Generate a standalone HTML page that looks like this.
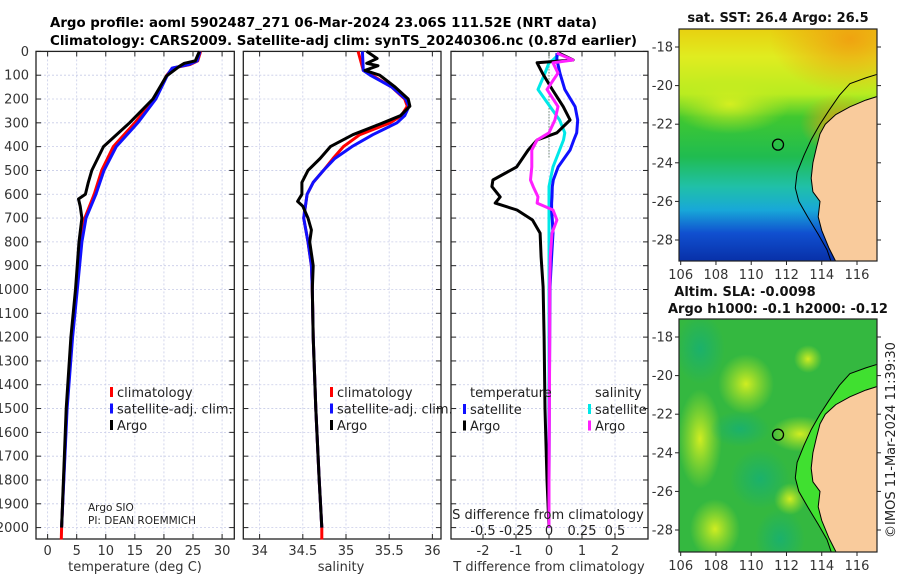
<!DOCTYPE html>
<html><head><meta charset="utf-8"><style>
html,body{margin:0;padding:0;background:#fff;}
svg{display:block;font-family:"DejaVu Sans","Liberation Sans",sans-serif;}
</style></head><body>
<svg id="fig" width="900" height="580" viewBox="0 0 900 580" xmlns="http://www.w3.org/2000/svg">
<defs>
<linearGradient id="sstGrad" x1="0" y1="0" x2="0" y2="1">
<stop offset="0" stop-color="#e8d010"/><stop offset="0.12" stop-color="#e0ec20"/>
<stop offset="0.28" stop-color="#b8ec20"/><stop offset="0.38" stop-color="#40c830"/>
<stop offset="0.55" stop-color="#20bc50"/><stop offset="0.68" stop-color="#20c0a8"/>
<stop offset="0.78" stop-color="#18a8d8"/><stop offset="0.88" stop-color="#1050d0"/>
<stop offset="1" stop-color="#0830a8"/></linearGradient>
<radialGradient id="orangeBlob"><stop offset="0" stop-color="#f0a010" stop-opacity="0.95"/><stop offset="1" stop-color="#f0a010" stop-opacity="0"/></radialGradient>
<radialGradient id="yelBlob"><stop offset="0" stop-color="#d8f020" stop-opacity="0.95"/><stop offset="1" stop-color="#c0e820" stop-opacity="0"/></radialGradient>
<radialGradient id="tealBlob"><stop offset="0" stop-color="#18b070" stop-opacity="0.9"/><stop offset="1" stop-color="#18b070" stop-opacity="0"/></radialGradient>
<clipPath id="clipTop"><rect x="679" y="29" width="198" height="232"/></clipPath>
<clipPath id="clipBot"><rect x="679" y="319" width="198" height="233"/></clipPath>
</defs>
<g id="titles">
<text x="50" y="27" font-size="13.5" font-weight="bold" textLength="547" lengthAdjust="spacingAndGlyphs">Argo profile: aoml 5902487_271 06-Mar-2024 23.06S 111.52E (NRT data)</text>
<text x="50" y="45" font-size="13.5" font-weight="bold" textLength="587" lengthAdjust="spacingAndGlyphs">Climatology: CARS2009. Satellite-adj clim: synTS_20240306.nc (0.87d earlier)</text>
</g>
<g id="panels"></g>
<g id="maps"></g>
<text x="0" y="0" font-size="13" text-anchor="middle" transform="translate(895,440) rotate(-90)" fill="#222">©IMOS 11-Mar-2024 11:39:30</text>
</svg>
<script>
// ===== data =====
const depthTicks = [0,100,200,300,400,500,600,700,800,900,1000,1100,1200,1300,1400,1500,1600,1700,1800,1900,2000];
const tTicks = [0,5,10,15,20,25,30];
const sTicks = [34,34.5,35,35.5,36];
const dTTicks = [-2,-1,0,1,2];
const dSTickLabels = ["-0.5","-0.25","0","0.25","0.5"];
const dSTicks = [-0.5,-0.25,0,0.25,0.5];

const tDepth = [0,40,50,62,104,200,300,400,500,550,600,620,650,700,800,1000,1200,1500,2000];
const tArgo  = [26.1,25.4,23.5,22.7,20.4,18.1,14.1,9.6,7.6,7.0,6.5,5.3,5.6,5.9,5.4,4.8,4.0,3.2,2.4];
const cDepth = [0,40,55,70,100,200,300,400,500,600,700,800,1000,1200,1500,2000,2050];
const tClim  = [26.3,25.8,24.5,21.5,20.5,18.3,15.0,11.3,9.3,8.0,6.4,5.8,5.0,4.2,3.3,2.4,2.35];
const tSat   = [26.2,25.7,24.3,21.4,20.6,18.6,15.5,11.8,9.7,8.3,6.6,5.9,5.1,4.3,3.35,2.4,2.4];

const sDepth = [0,30,50,60,80,100,150,200,230,270,300,350,400,450,500,550,600,630,650,700,750,800,900,1000,1200,1500,1800,2000];
const sArgo  = [35.24,35.36,35.24,35.37,35.22,35.39,35.57,35.72,35.74,35.63,35.43,35.08,34.82,34.70,34.56,34.49,34.49,34.44,34.50,34.56,34.60,34.58,34.62,34.61,34.62,34.65,34.69,34.72];
const scDepth = [0,80,100,150,200,230,270,300,350,400,450,500,550,600,650,700,800,900,1000,1200,1500,1800,2000,2050];
const sClim  = [35.14,35.2,35.30,35.53,35.68,35.71,35.64,35.51,35.16,34.97,34.85,34.74,34.62,34.55,34.53,34.51,34.56,34.60,34.61,34.62,34.65,34.69,34.72,34.72];
const sSat   = [35.19,35.2,35.28,35.53,35.69,35.73,35.68,35.59,35.31,35.07,34.87,34.74,34.62,34.55,34.53,34.51,34.56,34.60,34.61,34.62,34.65,34.69,34.72,34.72];

const dDepth = [7,36,48,91,160,232,288,342,372,414,485,540,568,611,637,666,708,763,863,989,1200,1500,1800,2000];
const dTArgo = [0.3,0.73,-0.36,-0.2,0.1,0.43,0.64,0.24,-0.36,-0.63,-0.98,-1.7,-1.73,-1.48,-1.63,-0.97,-0.5,-0.27,-0.24,-0.18,-0.15,-0.12,-0.06,0];
const dTSat  = [0.24,0.24,0.26,0.33,0.48,0.79,0.87,0.84,0.75,0.64,0.28,0.13,0.1,0.09,0.08,0.08,0.1,0.12,0.08,0.03,0.02,0.01,0.0,0];
const dSSat  = [0.083,0.03,0.0,-0.03,-0.083,0.008,0.08,0.12,0.11,0.08,0.03,0.01,0.0,0.0,0.0,0.0,0.0,0.0,0.0,0.0,0.0,0.0,0.0,0];
const dSArgo = [0.06,0.18,0.03,0.068,-0.015,0.068,0.045,0.0,-0.09,-0.13,-0.13,-0.14,-0.12,-0.083,-0.09,0.03,0.06,0.023,0.01,0.005,0.005,0.003,0.0,0];

// ===== helpers =====
const NS="http://www.w3.org/2000/svg";
function mk(tag,attrs,parent){const e=document.createElementNS(NS,tag);for(const k in attrs)e.setAttribute(k,attrs[k]);parent.appendChild(e);return e;}
const TOP=51.4, BOT=539, PXM=0.2381;
const yD = d => TOP + d*PXM;
const panels = [
 {name:'temperature',x0:36,x1:234.3,v0:-2.0,v1:32.1},
 {name:'salinity',x0:243.3,x1:441,v0:33.811,v1:36.10},
 {name:'difference',x0:451,x1:648,v0:-2.97,v1:3.0}
];
function xf(p,v){return p.x0+(v-p.v0)/(p.v1-p.v0)*(p.x1-p.x0);}
const gP=document.getElementById('panels');

function drawFrame(p, xticks, labels){
  const g=mk('g',{},gP);
  
  
  mk('rect',{x:p.x0,y:TOP,width:p.x1-p.x0,height:BOT-TOP,fill:'#fff'},g);
  depthTicks.forEach(d=>{
    const l=mk('line',{x1:p.x0,x2:p.x1,y1:yD(d),y2:yD(d),stroke:'#c8cce8','stroke-width':0.8,'stroke-dasharray':'2,2'},g);
    
    
    mk('line',{x1:p.x0,x2:p.x0+5,y1:yD(d),y2:yD(d),stroke:'#222'},g);
    mk('line',{x1:p.x1-5,x2:p.x1,y1:yD(d),y2:yD(d),stroke:'#222'},g);
  });
  xticks.forEach((v,i)=>{
    const x=xf(p,v);
    const l=mk('line',{x1:x,x2:x,y1:TOP,y2:BOT,stroke:'#c8cce8','stroke-width':0.8,'stroke-dasharray':'2,2'},g);
    
    
    mk('line',{x1:x,x2:x,y1:BOT,y2:BOT-5,stroke:'#222'},g);
    mk('line',{x1:x,x2:x,y1:TOP,y2:TOP+5,stroke:'#222'},g);
    const t=mk('text',{x:x,y:555,'font-size':13,'text-anchor':'middle',fill:'#333'},g);
    t.textContent=labels[i];
    
    
  });
  const fr=mk('rect',{x:p.x0,y:TOP,width:p.x1-p.x0,height:BOT-TOP,fill:'none',stroke:'#222','stroke-width':1.3},g);
  
  
  return g;
}
function line(g,p,depths,vals,color,w,name,scale){
  scale=scale||1;
  const pts=depths.map((d,i)=>xf(p,vals[i]*scale).toFixed(1)+','+yD(d).toFixed(1)).join(' ');
  const l=mk('polyline',{points:pts,fill:'none',stroke:color,'stroke-width':w,'stroke-linejoin':'round'},g);
  
  
}
function legend(g,x,y,items){
  items.forEach((it,i)=>{
    const yy=y+i*16.5;
    mk('rect',{x:x,y:yy-10,width:3,height:10,fill:it[1]},g);
    const t=mk('text',{x:x+7,y:yy,'font-size':13,fill:'#222'},g);
    t.textContent=it[0];
    
    
  });
}

depthTicks.forEach(d=>{
  const t=mk('text',{x:29,y:yD(d)+4.5,'font-size':13,'text-anchor':'end',fill:'#333'},gP);
  t.textContent=String(d);
  
  
});

let p=panels[0], g=drawFrame(p,tTicks,tTicks.map(String));
line(g,p,cDepth,tClim,'#f00',3,'temperature-climatology-line');
line(g,p,cDepth.slice(0,-1),tSat.slice(0,-1),'#1010ff',3,'temperature-satellite-line');
line(g,p,tDepth,tArgo,'#000',3,'temperature-argo-line');
legend(g,110,397,[['climatology','#f00'],['satellite-adj. clim.','#1010ff'],['Argo','#000']]);
let t=mk('text',{x:88,y:511,'font-size':10.5,fill:'#222'},g);t.textContent='Argo SIO';

t=mk('text',{x:88,y:524,'font-size':10.5,fill:'#222'},g);t.textContent='PI: DEAN ROEMMICH';

t=mk('text',{x:135,y:571,'font-size':13,'text-anchor':'middle',fill:'#333'},g);t.textContent='temperature (deg C)';


p=panels[1]; g=drawFrame(p,sTicks,sTicks.map(String));
line(g,p,scDepth,sClim,'#f00',3,'salinity-climatology-line');
line(g,p,scDepth.slice(0,-1),sSat.slice(0,-1),'#1010ff',3,'salinity-satellite-line');
line(g,p,sDepth,sArgo,'#000',3,'salinity-argo-line');
legend(g,330,397,[['climatology','#f00'],['satellite-adj. clim.','#1010ff'],['Argo','#000']]);
t=mk('text',{x:341,y:571,'font-size':13,'text-anchor':'middle',fill:'#333'},g);t.textContent='salinity';


p=panels[2]; g=drawFrame(p,dTTicks,dTTicks.map(String));
mk('line',{x1:xf(p,0),x2:xf(p,0),y1:TOP,y2:yD(450),stroke:'#335533','stroke-width':1,'stroke-dasharray':'1,2'},g);
const sScale=4;
line(g,p,dDepth,dSSat,'#00e8e8',3,'salinity-satellite-diff-line',sScale);
line(g,p,dDepth,dTSat,'#1010ff',3,'temperature-satellite-diff-line');
line(g,p,dDepth,dTArgo,'#000',3,'temperature-argo-diff-line');
line(g,p,dDepth,dSArgo,'#ff20ff',3,'salinity-argo-diff-line',sScale);
t=mk('text',{x:470,y:397,'font-size':13,fill:'#222'},g);t.textContent='temperature';

t=mk('text',{x:595,y:397,'font-size':13,fill:'#222'},g);t.textContent='salinity';

legend(g,463,414,[['satellite','#1010ff'],['Argo','#000']]);
legend(g,588,414,[['satellite','#00e8e8'],['Argo','#ff20ff']]);
t=mk('text',{x:548,y:519,'font-size':13,'text-anchor':'middle',fill:'#222'},g);t.textContent='S difference from climatology';

dSTicks.forEach((v,i)=>{
  const tt=mk('text',{x:xf(p,v*sScale),y:535,'font-size':13,'text-anchor':'middle',fill:'#222'},g);
  tt.textContent=dSTickLabels[i];
  
  
});
t=mk('text',{x:549,y:571,'font-size':13,'text-anchor':'middle',fill:'#333'},g);t.textContent='T difference from climatology';


// ===== maps =====
const lonTicks=[106,108,110,112,114,116];
const latTicks=[-18,-20,-22,-24,-26,-28];
const coast=[[117.2,-20.55],[116.5,-20.75],[115.6,-21.1],[114.8,-21.5],[114.2,-22.0],[113.9,-22.5],[113.7,-23.2],[113.5,-24.0],[113.4,-24.8],[113.5,-25.5],[113.9,-26.0],[113.8,-26.8],[114.0,-27.5],[114.4,-28.4],[114.9,-29.3],[117.2,-29.3]];
const shelf=[[117.2,-19.4],[116.5,-19.6],[115.6,-19.9],[115.0,-20.5],[114.4,-21.3],[113.9,-22.0],[113.4,-22.8],[113.0,-23.6],[112.6,-24.5],[112.5,-25.3],[112.7,-26.0],[113.2,-26.8],[113.8,-27.7],[114.3,-28.5],[114.6,-29.3]];
const argoLon=111.52, argoLat=-23.06;
const gM=document.getElementById('maps');
function mapPanel(top,name,isSST){
  const mx=lon=>680.7+(lon-106)*17.63;
  const my=lat=>top+18+(-18-lat)*19.3;
  const g=mk('g',{},gM);
  
  
  const c=mk('g',{'clip-path':'url(#'+(isSST?'clipTop':'clipBot')+')'},g);
  if(isSST){
    mk('rect',{x:679,y:top,width:198,height:232,fill:'url(#sstGrad)'},c);
    mk('ellipse',{cx:850,cy:top+10,rx:80,ry:55,fill:'url(#orangeBlob)'},c);
    mk('ellipse',{cx:730,cy:top+75,rx:60,ry:30,fill:'url(#yelBlob)'},c);
    mk('ellipse',{cx:840,cy:top+95,rx:40,ry:30,fill:'url(#orangeBlob)'},c);
  } else {
    mk('rect',{x:679,y:top,width:198,height:233,fill:'#34b840'},c);
    [[746,top+65,28,30,'yelBlob'],[700,top+120,22,50,'yelBlob'],[715,top+210,25,30,'yelBlob'],[800,top+115,30,18,'yelBlob'],[808,top+40,14,14,'yelBlob'],[790,top+180,16,16,'yelBlob'],
     [740,top+110,30,18,'tealBlob'],[700,top+30,25,35,'tealBlob'],[780,top+220,25,30,'tealBlob'],[760,top+160,30,30,'tealBlob']].forEach(b=>{
      mk('ellipse',{cx:b[0],cy:b[1],rx:b[2],ry:b[3],fill:'url(#'+b[4]+')'},c);
    });
    const sh=shelf.map(q=>mx(q[0])+','+my(q[1])).join(' ')+' '+coast.slice().reverse().map(q=>mx(q[0])+','+my(q[1])).join(' ');
    mk('polygon',{points:sh,fill:'#40e030'},c);
  }
  const land=mk('polygon',{points:coast.map(q=>mx(q[0]).toFixed(1)+','+my(q[1]).toFixed(1)).join(' '),fill:'#f9cb9c',stroke:'#000','stroke-width':1},c);
  
  
  const sl=mk('polyline',{points:shelf.map(q=>mx(q[0]).toFixed(1)+','+my(q[1]).toFixed(1)).join(' '),fill:'none',stroke:'#000','stroke-width':1},c);
  
  
  const ci=mk('circle',{cx:mx(argoLon),cy:my(argoLat),r:5.5,fill:'none',stroke:'#000','stroke-width':1.3},g);
  
  
  mk('rect',{x:679,y:top,width:198,height:isSST?232:233,fill:'none',stroke:'#222','stroke-width':1.2},g);
  const bot=top+(isSST?232:233);
  lonTicks.forEach(v=>{
    const x=mx(v);
    mk('line',{x1:x,x2:x,y1:bot,y2:bot+4,stroke:'#222'},g);
    const tt=mk('text',{x:x,y:bot+18,'font-size':13,'text-anchor':'middle',fill:'#333'},g);
    tt.textContent=String(v);
    
    
  });
  latTicks.forEach(v=>{
    const y=my(v);
    mk('line',{x1:675,x2:679,y1:y,y2:y,stroke:'#222'},g);
    mk('line',{x1:877,x2:881,y1:y,y2:y,stroke:'#222'},g);
    const tt=mk('text',{x:673,y:y+4.5,'font-size':13,'text-anchor':'end',fill:'#333'},g);
    tt.textContent=String(v);
    
    
  });
}
mapPanel(29,'sst-map',true);
mapPanel(319,'sla-map',false);
t=mk('text',{x:778,y:22,'font-size':13,'font-weight':'bold','text-anchor':'middle',fill:'#111'},gM);t.textContent='sat. SST: 26.4 Argo: 26.5';

t=mk('text',{x:745,y:296,'font-size':13,'font-weight':'bold','text-anchor':'middle',fill:'#111'},gM);t.textContent='Altim. SLA: -0.0098';

t=mk('text',{x:778,y:313,'font-size':13,'font-weight':'bold','text-anchor':'middle',fill:'#111'},gM);t.textContent='Argo h1000: -0.1 h2000: -0.12';

</script>
</body></html>
